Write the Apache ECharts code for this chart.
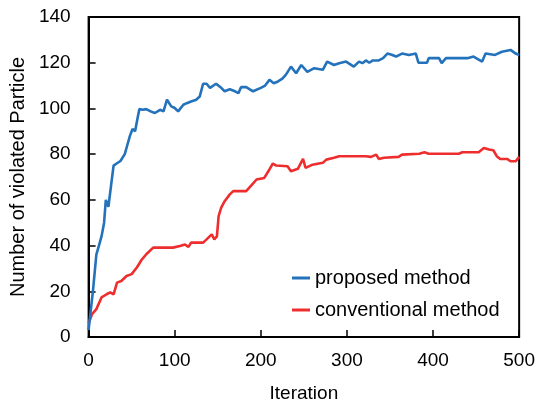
<!DOCTYPE html>
<html>
<head>
<meta charset="utf-8">
<script src="https://cdn.jsdelivr.net/npm/echarts@6/dist/echarts.min.js"></script>
<style>
html, body { margin: 0; padding: 0; background: #fff; }
#main { width: 538px; height: 408px; }
</style>
</head>
<body>
<div id="main"></div>
<script>
// values
var seriesNames = ['proposed method', 'conventional method'];

var proposedIter = [0, 2, 5, 9, 12, 15, 18, 20, 23, 26, 29, 33, 37, 42, 45, 48, 51, 54, 57, 59,
	63, 67, 72, 77, 83, 87, 91, 96, 100, 104, 110, 114, 119, 125, 129, 133, 137, 141, 148, 154,
	158, 164, 170, 174, 177, 183, 191, 200, 205, 210, 215, 220, 225, 229, 235, 241, 247, 254, 262, 272,
	277, 285, 291, 299, 308, 314, 318, 322, 326, 330, 337, 342, 347, 352, 357, 364, 372, 380, 383, 393,
	395, 407, 410, 415, 440, 447, 457, 461, 472, 480, 490, 496, 500];
var proposedVal = [3, 10, 20, 36, 40, 44, 50, 60, 57, 66, 75, 76, 77, 80, 84, 88, 91, 90, 96, 99.7,
	99.4, 99.7, 98.7, 98, 99.4, 98.7, 103.8, 100.9, 100.2, 98.7, 101.6, 102.3, 103, 103.8, 105.2, 110.8, 110.8, 109, 110.8, 109,
	107.5, 108.4, 107.5, 106.7, 109.3, 109.3, 107.5, 109, 110, 112.5, 111, 111.8, 113, 114.7, 118.3, 115.4, 119, 116, 117.6, 116.9,
	120.5, 119, 119.8, 120.5, 118.3, 120.5, 119.8, 121, 120, 121, 121, 122, 124, 123.5, 122.7, 124, 123.4, 124, 120, 120,
	122, 122, 119.8, 122, 122, 122.7, 120.5, 124, 123.4, 124.8, 125.6, 124, 123.4];

var conventionalIter = [0, 2, 4, 9, 15, 21, 25, 29, 33, 38, 44, 50, 56, 62, 67, 75, 88, 98, 106, 112,
	116, 119, 127, 133, 137, 143, 146, 149, 151, 154, 158, 164, 168, 183, 189, 195, 204, 210, 214, 218,
	231, 235, 243, 249, 252, 260, 272, 276, 285, 291, 314, 322, 324, 328, 334, 337, 343, 360, 364, 384,
	390, 395, 430, 434, 453, 459, 465, 470, 474, 478, 486, 490, 496, 500];
var conventionalVal = [6, 8, 10, 12.2, 17.3, 18.7, 19.5, 18.7, 23.8, 24.5, 26.7, 27.5, 30.4, 34, 36.2, 39.1, 39.1, 39.1, 39.8, 40.5,
	39.4, 41.3, 41.3, 41.3, 42.7, 44.9, 42.7, 44, 52.9, 56.6, 59.4, 62.4, 63.8, 63.8, 66.3, 68.9, 69.6, 73.3, 75.9, 75,
	74.7, 72.5, 73.6, 77.9, 74, 75.4, 76.2, 77.6, 78.4, 79.1, 79.1, 79.1, 79.8, 78.8, 79.8, 77.9, 78.4, 78.8, 79.8, 80.2,
	80.8, 80.2, 80.2, 80.8, 80.8, 82.7, 82, 81.7, 79.1, 77.9, 77.9, 76.9, 76.9, 78.8];

function pairs(xs, ys) {
	var out = [];
	for (var i = 0; i < xs.length; i++) {
		out.push([xs[i], ys[i]]);
	}
	return out;
}

var font = 'Liberation Sans, Arial, sans-serif';
var myChart = echarts.init(document.getElementById('main'), null, { renderer: 'canvas' });

var option = {
	animation: false,
	backgroundColor: '#fff',
	grid: {
		left: 88.5,
		right: 17,
		top: 17,
		bottom: 70,
		show: true,
		borderColor: '#000',
		borderWidth: 2
	},
	legend: {
		orient: 'vertical',
		left: 287,
		top: 263,
		icon: 'rect',
		itemWidth: 18,
		itemHeight: 3,
		itemGap: 12,
		textStyle: { fontFamily: font, fontSize: 20, color: '#000' },
		data: seriesNames
	},
	xAxis: {
		type: 'value',
		min: 0,
		max: 500,
		interval: 100,
		name: 'Iteration',
		nameLocation: 'middle',
		nameGap: 47,
		nameTextStyle: { fontFamily: font, fontSize: 19, color: '#000' },
		axisLine: { show: true, lineStyle: { color: '#000', width: 2 } },
		axisTick: { show: true, inside: true, length: 7, lineStyle: { color: '#000', width: 1.5 } },
		axisLabel: { fontFamily: font, fontSize: 19, color: '#000', margin: 14 },
		splitLine: { show: false }
	},
	yAxis: {
		type: 'value',
		min: 0,
		max: 140,
		interval: 20,
		name: 'Number of violated Particle',
		nameLocation: 'middle',
		nameGap: 55,
		nameTextStyle: { fontFamily: font, fontSize: 20, color: '#000' },
		axisLine: { show: true, lineStyle: { color: '#000', width: 2 } },
		axisTick: { show: true, inside: true, length: 7, lineStyle: { color: '#000', width: 1.5 } },
		axisLabel: { fontFamily: font, fontSize: 19, color: '#000', margin: 18 },
		splitLine: { show: false }
	},
	series: [{
		name: seriesNames[0],
		type: 'line',
		data: pairs(proposedIter, proposedVal),
		showSymbol: false,
		lineStyle: { color: '#2372bb', width: 2.6 },
		itemStyle: { color: '#2372bb' },
		z: 3
	}, {
		name: seriesNames[1],
		type: 'line',
		data: pairs(conventionalIter, conventionalVal),
		showSymbol: false,
		lineStyle: { color: '#ee2e2e', width: 2.6 },
		itemStyle: { color: '#ee2e2e' },
		z: 2
	}]
};

option && myChart.setOption(option);
</script>
</body>
</html>
